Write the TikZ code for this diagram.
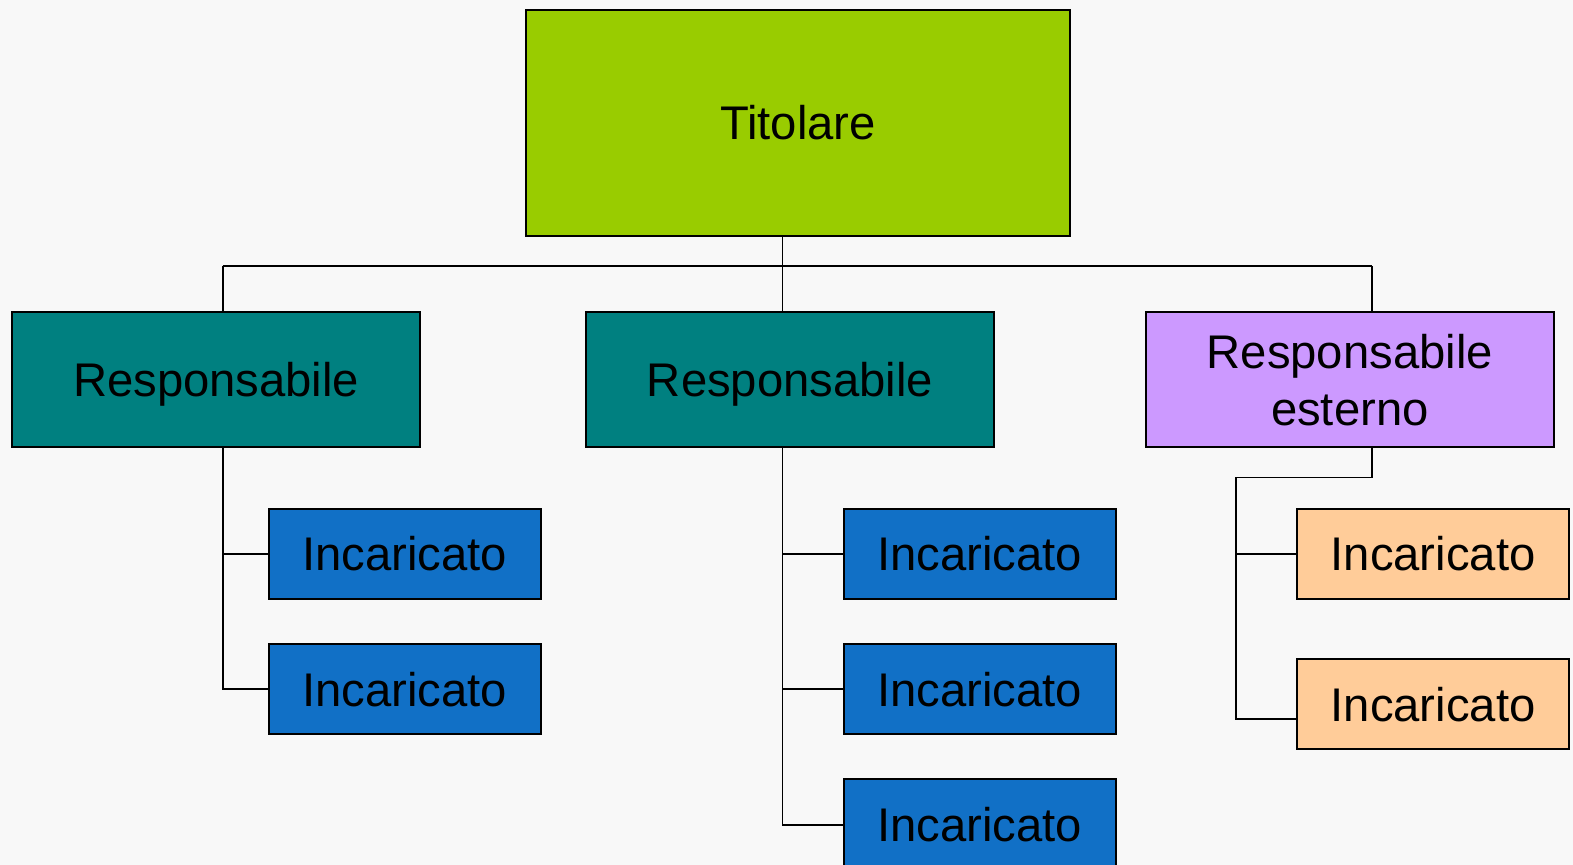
\documentclass[tikz,border=0pt]{standalone}
\usepackage{fontspec}
\setmainfont{Liberation Sans}
\usetikzlibrary{positioning}

\definecolor{bgpaper}{HTML}{F8F8F8}
\definecolor{titgreen}{HTML}{99CC00}
\definecolor{respteal}{HTML}{008080}
\definecolor{extlilac}{HTML}{CC99FF}
\definecolor{incblue}{HTML}{1170C6}
\definecolor{incpeach}{HTML}{FFCC99}

\begin{document}
\begin{tikzpicture}[
    x=0.02cm, y=-0.02cm,
    node distance=0.9cm,
    every node/.style={font=\fontsize{26.8}{32.3}\selectfont, inner sep=0pt, outer sep=0pt},
    oneline/.style={text height=19.2pt, text depth=0pt},
    boss/.style={draw, line width=1.1pt, fill=titgreen, oneline, minimum width=10.86cm, minimum height=4.5cm},
    resp/.style={draw, line width=1.1pt, fill=respteal, align=center, minimum width=8.14cm, minimum height=2.7cm},
    inc/.style={draw, line width=1.1pt, fill=incblue, oneline, minimum width=5.42cm, minimum height=1.8cm},
    link/.style={line width=1.1pt}
]
\fill[bgpaper] (0,0) rectangle (1568,862);
\useasboundingbox (0,0) rectangle (1568,862);

% top level
\node[boss] (tit) at (795.5,122.5) {Titolare};
\node[resp, oneline] (resp1) at (215.5,378.5) {Responsabile};
\node[resp, oneline] (resp2) at (787.5,378.5) {Responsabile};
\node[resp, fill=extlilac] (resp3) at (1345.5,378.5) {Responsabile\\esterno};

% incaricati
\node[inc] (inc11) at (403.5,552) {Incaricato};
\node[inc, below=of inc11] (inc12) {Incaricato};
\node[inc] (inc21) at (976.5,552) {Incaricato};
\node[inc, below=of inc21] (inc22) {Incaricato};
\node[inc, below=of inc22] (inc23) {Incaricato};
\node[inc, fill=incpeach] (inc31) at (1428.5,552) {Incaricato};
\node[inc, fill=incpeach, below=1.2cm of inc31] (inc32) {Incaricato};

% connectors
\coordinate (j1) at (222,265);
\coordinate (j2) at (780,265);
\coordinate (j3) at (1368,265);
\coordinate (j4) at (1232,476);
\draw[link] (j1) -- (j3);
\draw[link] (tit.south -| j2) -- (resp2.north -| j2);
\draw[link] (j1) -- (resp1.north -| j1);
\draw[link] (j3) -- (resp3.north -| j3);
\draw[link] (resp1.south -| j1) |- (inc11.west);
\draw[link] (resp1.south -| j1) |- (inc12.west);
\draw[link] (resp2.south -| j2) |- (inc21.west);
\draw[link] (resp2.south -| j2) |- (inc22.west);
\draw[link] (resp2.south -| j2) |- (inc23.west);
\draw[link] (resp3.south -| j3) |- (j4) |- (inc31.west);
\draw[link] (j4) |- ([yshift=-0.3cm]inc32.west);
\end{tikzpicture}
\end{document}
